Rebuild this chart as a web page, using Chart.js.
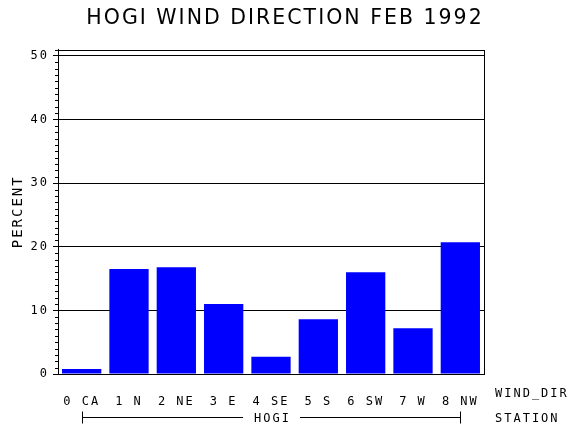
<!DOCTYPE html>
<html>
<head>
<meta charset="utf-8">
<title>HOGI WIND DIRECTION FEB 1992</title>
<script src="https://cdn.jsdelivr.net/npm/chart.js@4/dist/chart.umd.min.js"></script>
<style>
  html, body { margin: 0; padding: 0; background: #fff; }
  #wrap { width: 570px; height: 430px; }
</style>
</head>
<body>
<div id="wrap"><canvas id="myChart" width="570" height="430"></canvas></div>
<script>
// data
var categories = ['0 CA', '1 N', '2 NE', '3 E', '4 SE', '5 S', '6 SW', '7 W', '8 NW'];
var percent = [0.8, 16.5, 16.8, 11.0, 2.7, 8.6, 16.0, 7.2, 20.7];
var stationName = 'HOGI';
var xTitle = 'WIND_DIR';
var groupTitle = 'STATION';
var yTitle = 'PERCENT';
var yMin = 0;
var yMax = 51;
var yStep = 10;
var yMinorStep = 1;

var labelFont = { family: 'DejaVu Sans Mono', size: 12 };

// frame, minor ticks and the station row under the axis
var extras = {
    id: 'extras',
    beforeDraw: function (chart) {
        chart.ctx.letterSpacing = '2px';
    },
    afterDraw: function (chart) {
        var ctx = chart.ctx;
        var area = chart.chartArea;
        var y = chart.scales.y;
        var x = chart.scales.x;

        ctx.save();
        ctx.strokeStyle = '#000';
        ctx.lineWidth = 1;

        // box round the plot
        ctx.strokeRect(Math.round(area.left) + 0.5, Math.round(area.top) + 0.5,
            Math.round(area.right - area.left), Math.round(area.bottom - area.top));

        // minor ticks on the y axis
        ctx.beginPath();
        for (var v = yMin + yMinorStep; v <= yMax; v += yMinorStep) {
            if (v % yStep == 0) continue;
            var py = Math.round(y.getPixelForValue(v)) + 0.5;
            ctx.moveTo(area.left - 3, py);
            ctx.lineTo(area.left, py);
        }
        ctx.stroke();

        ctx.fillStyle = '#000';
        ctx.font = labelFont.size + 'px "' + labelFont.family + '"';
        ctx.textBaseline = 'middle';

        // station row
        var x0 = Math.round(x.getPixelForValue(0)) + 0.5;
        var x1 = Math.round(x.getPixelForValue(categories.length - 1)) + 0.5;
        var rowY = area.bottom + 43.5;
        var mid = (x0 + x1) / 2;
        var tw = ctx.measureText(stationName).width;
        ctx.beginPath();
        ctx.moveTo(x0, rowY - 6);
        ctx.lineTo(x0, rowY + 6);
        ctx.moveTo(x0, rowY);
        ctx.lineTo(mid - tw / 2 - 10, rowY);
        ctx.moveTo(mid + tw / 2 + 10, rowY);
        ctx.lineTo(x1, rowY);
        ctx.moveTo(x1, rowY - 6);
        ctx.lineTo(x1, rowY + 6);
        ctx.stroke();

        ctx.textAlign = 'center';
        ctx.fillText(stationName, mid + 1, rowY + 1);

        ctx.textAlign = 'left';
        ctx.fillText(xTitle, area.right + 11, area.bottom + 20);
        ctx.fillText(groupTitle, area.right + 11, area.bottom + 45);
        ctx.restore();
    }
};

var ctx = document.getElementById('myChart').getContext('2d');

var chart = new Chart(ctx, {
    type: 'bar',
    data: {
        labels: categories,
        datasets: [{
            label: 'PERCENT',
            data: percent,
            backgroundColor: '#0000ff',
            borderWidth: 0,
            barPercentage: 0.83,
            categoryPercentage: 1.0
        }]
    },
    options: {
        responsive: false,
        animation: false,
        devicePixelRatio: 1,
        layout: { padding: 0 },
        plugins: {
            legend: { display: false },
            tooltip: { enabled: false },
            title: {
                display: true,
                text: 'HOGI WIND DIRECTION FEB 1992',
                color: '#000',
                font: { family: 'DejaVu Sans', size: 20.5, weight: 'normal', lineHeight: 1.2 },
                padding: { top: 6, bottom: 19 }
            }
        },
        scales: {
            x: {
                grid: { display: false },
                border: { display: true, color: '#000', width: 1 },
                ticks: { color: '#000', font: labelFont, padding: 13, maxRotation: 0, autoSkip: false },
                afterFit: function (scale) { scale.height = 56; }
            },
            y: {
                min: yMin,
                max: yMax,
                grid: { color: '#000', lineWidth: 1, tickLength: 5, tickColor: '#000' },
                border: { display: true, color: '#000', width: 1 },
                ticks: { stepSize: yStep, includeBounds: false, color: '#000', font: labelFont, padding: 4 },
                title: {
                    display: true,
                    text: yTitle,
                    color: '#000',
                    font: { family: 'DejaVu Sans Mono', size: 14, lineHeight: 1.2 },
                    padding: { top: 10, bottom: 0 }
                },
                afterFit: function (scale) { scale.width = 58; }
            },
            // empty axis that only keeps the room on the right for the row titles
            yRight: {
                position: 'right',
                min: yMin,
                max: yMax,
                grid: { display: false },
                border: { display: false },
                ticks: { display: false },
                afterFit: function (scale) { scale.width = 86; }
            }
        }
    },
    plugins: [extras]
});
</script>
</body>
</html>
